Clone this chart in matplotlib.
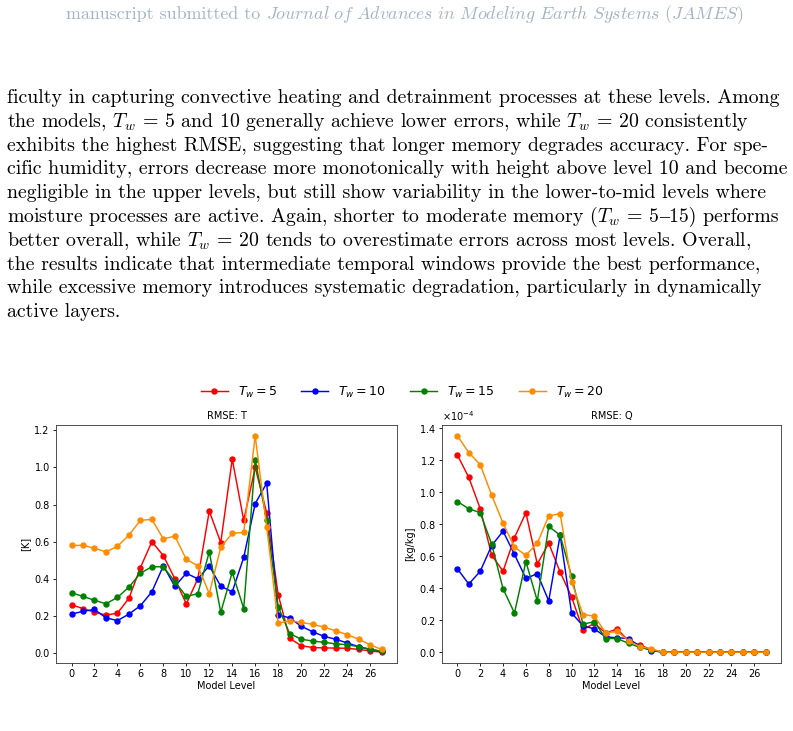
import matplotlib
matplotlib.use("Agg")
import matplotlib.pyplot as plt
import numpy as np

levels = list(range(28))

t_tw5 = [0.26, 0.24, 0.22, 0.205, 0.215, 0.295, 0.46, 0.60, 0.525, 0.40, 0.265, 0.40, 0.765, 0.595,
         1.045, 0.715, 1.00, 0.755, 0.315, 0.08, 0.04, 0.03, 0.028, 0.027, 0.026, 0.02, 0.012, 0.005]
t_tw10 = [0.21, 0.225, 0.235, 0.19, 0.175, 0.21, 0.255, 0.33, 0.47, 0.36, 0.43, 0.40, 0.47, 0.36,
          0.33, 0.515, 0.805, 0.915, 0.205, 0.19, 0.145, 0.115, 0.09, 0.075, 0.055, 0.035, 0.02, 0.01]
t_tw15 = [0.325, 0.305, 0.285, 0.265, 0.30, 0.355, 0.43, 0.465, 0.465, 0.385, 0.305, 0.32, 0.545, 0.22,
          0.435, 0.24, 1.04, 0.715, 0.25, 0.105, 0.075, 0.065, 0.058, 0.05, 0.045, 0.035, 0.02, 0.01]
t_tw20 = [0.58, 0.58, 0.565, 0.545, 0.575, 0.635, 0.715, 0.72, 0.615, 0.63, 0.505, 0.47, 0.32, 0.57,
          0.645, 0.65, 1.17, 0.68, 0.16, 0.175, 0.165, 0.155, 0.14, 0.12, 0.10, 0.075, 0.045, 0.02]

q_scale = 1e-4
q_tw5 = [1.23, 1.09, 0.895, 0.605, 0.505, 0.715, 0.87, 0.55, 0.68, 0.50, 0.345, 0.14, 0.18, 0.12,
         0.145, 0.07, 0.045, 0.015, 0, 0, 0, 0, 0, 0, 0, 0, 0, 0]
q_tw10 = [0.52, 0.425, 0.505, 0.665, 0.755, 0.61, 0.46, 0.49, 0.32, 0.73, 0.245, 0.165, 0.145, 0.095,
          0.09, 0.085, 0.035, 0.01, 0, 0, 0, 0, 0, 0, 0, 0, 0, 0]
q_tw15 = [0.94, 0.895, 0.87, 0.675, 0.395, 0.245, 0.565, 0.32, 0.785, 0.73, 0.475, 0.175, 0.19, 0.085,
          0.085, 0.055, 0.03, 0.015, 0, 0, 0, 0, 0, 0, 0, 0, 0, 0]
q_tw20 = [1.35, 1.245, 1.17, 0.98, 0.805, 0.655, 0.605, 0.68, 0.85, 0.865, 0.44, 0.235, 0.225, 0.12,
          0.13, 0.07, 0.035, 0.02, 0, 0, 0, 0, 0, 0, 0, 0, 0, 0]

series_labels = [r'$T_w = 5$', r'$T_w = 10$', r'$T_w = 15$', r'$T_w = 20$']
series_colors = ['red', 'blue', 'green', 'darkorange']
xticks = list(range(0, 27, 2))

header_plain = "manuscript submitted to "
header_journal = r"$\mathit{Journal\ of\ Advances\ in\ Modeling\ Earth\ Systems\ (JAMES)}$"

# each body line is a list of pieces; pieces flagged True use a font with an en dash glyph
body_lines = [
    [("ficulty in capturing convective heating and detrainment processes at these levels. Among", False)],
    [(r"the models, $T_w$ = 5 and 10 generally achieve lower errors, while $T_w$ = 20 consistently", False)],
    [("exhibits the highest RMSE, suggesting that longer memory degrades accuracy. For spe-", False)],
    [("cific humidity, errors decrease more monotonically with height above level 10 and become", False)],
    [("negligible in the upper levels, but still show variability in the lower-to-mid levels where", False)],
    [(r"moisture processes are active. Again, shorter to moderate memory ($T_w$ = 5", False),
     ("–", True), ("15) performs", False)],
    [(r"better overall, while $T_w$ = 20 tends to overestimate errors across most levels. Overall,", False)],
    [("the results indicate that intermediate temporal windows provide the best performance,", False)],
    [("while excessive memory introduces systematic degradation, particularly in dynamically", False)],
    [("active layers.", False)],
]

W, H = 793, 731
fig = plt.figure(figsize=(W / 100, H / 100), dpi=100)
fig.canvas.draw()
renderer = fig.canvas.get_renderer()


def fx(px):
    return px / W


def fy(py):
    return 1 - py / H


# header (centered)
hdr_color = '#a3b3c3'
hdr_size = 12.9
t1 = fig.text(0, fy(19), header_plain, family=['cmr10', 'DejaVu Serif'], fontsize=hdr_size,
              color=hdr_color, va='baseline', ha='left', math_fontfamily='cm')
t2 = fig.text(0, fy(19), header_journal, fontsize=hdr_size, color=hdr_color, va='baseline', ha='left',
              math_fontfamily='cm')
w1 = t1.get_window_extent(renderer).width
w2 = t2.get_window_extent(renderer).width
x0 = 405 - (w1 + w2) / 2
t1.set_x(fx(x0))
t2.set_x(fx(x0 + w1))

# body
body_size = 14.3
for i, pieces in enumerate(body_lines):
    x = 7.0
    y = fy(103 + i * 23.8)
    for txt, alt in pieces:
        fam = ['Liberation Serif'] if alt else ['cmr10', 'DejaVu Serif']
        t = fig.text(fx(x), y, txt, family=fam, fontsize=body_size, va='baseline', ha='left',
                     color='black', math_fontfamily='cm')
        x += t.get_window_extent(renderer).width

# axes
lw = 1.05
ms = 3.6
axT = fig.add_axes([fx(56), fy(663), fx(397) - fx(56), fy(425) - fy(663)])
axQ = fig.add_axes([fx(442), fy(663), fx(781) - fx(442), fy(425) - fy(663)])

t_series = [t_tw5, t_tw10, t_tw15, t_tw20]
q_series = [q_tw5, q_tw10, q_tw15, q_tw20]

handles = []
for vals, lab, col in zip(t_series, series_labels, series_colors):
    h, = axT.plot(levels, vals, marker='o', color=col, lw=lw, ms=ms, label=lab)
    handles.append(h)
for vals, lab, col in zip(q_series, series_labels, series_colors):
    axQ.plot(levels, np.array(vals) * q_scale, marker='o', color=col, lw=lw, ms=ms, label=lab)

for ax, title, ylab in [(axT, 'RMSE: T', '[K]'), (axQ, 'RMSE: Q', '[kg/kg]')]:
    ax.set_title(title, fontsize=7, pad=4)
    ax.set_xlabel('Model Level', fontsize=7, labelpad=1.5)
    ax.set_ylabel(ylab, fontsize=7, labelpad=3)
    ax.set_xticks(xticks)
    ax.tick_params(labelsize=7, length=2.5, width=0.6, pad=2)
    for s in ax.spines.values():
        s.set_linewidth(0.6)
        s.set_color('#333333')

axQ.ticklabel_format(axis='y', style='sci', scilimits=(0, 0), useMathText=True)
axQ.yaxis.get_offset_text().set_fontsize(7)

fig.legend(handles=handles, labels=series_labels, loc='center', bbox_to_anchor=(fx(402), fy(392)),
           ncol=4, frameon=False, fontsize=9, handlelength=2.15, columnspacing=1.95, handletextpad=0.8)

fig.savefig('out.png', dpi=100)
